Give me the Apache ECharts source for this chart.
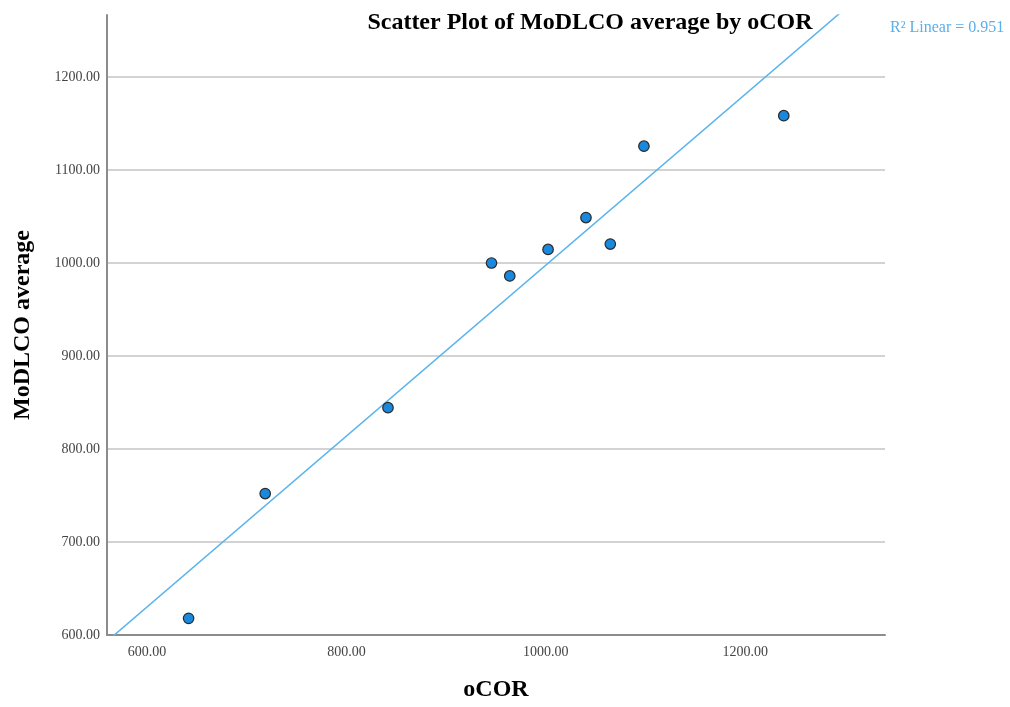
<!DOCTYPE html>
<html>
<head>
<meta charset="utf-8">
<script src="https://cdn.jsdelivr.net/npm/echarts@6/dist/echarts.min.js"></script>
<style>html,body{margin:0;padding:0;background:#fff;}#c{width:1010px;height:707px;}</style>
</head>
<body>
<div id="c"></div>
<script>
// Data
const oCOR = [641.8, 718.6, 841.7, 945.5, 963.8, 1002.2, 1040.2, 1064.6, 1098.3, 1238.5];
const modlcoAverage = [617.9, 752.1, 844.4, 1000.0, 986.1, 1014.6, 1048.9, 1020.4, 1125.6, 1158.4];
const xTickLabels = [600, 800, 1000, 1200];
const yTickLabels = [600, 700, 800, 900, 1000, 1100, 1200];
const titleText = 'Scatter Plot of MoDLCO average by oCOR';
const xName = 'oCOR';
const yName = 'MoDLCO average';

// Linear fit (least squares) from the data
const n = oCOR.length;
const mx = oCOR.reduce((a, b) => a + b, 0) / n;
const my = modlcoAverage.reduce((a, b) => a + b, 0) / n;
let sxy = 0, sxx = 0, syy = 0;
for (let i = 0; i < n; i++) {
  const dx = oCOR[i] - mx, dy = modlcoAverage[i] - my;
  sxy += dx * dy; sxx += dx * dx; syy += dy * dy;
}
const slope = sxy / sxx;
const intercept = my - slope * mx;
const r2 = (sxy * sxy) / (sxx * syy);

const X_MIN = 560, X_MAX = 1340, Y_MIN = 600, Y_MAX = 1266.7;
const fitLine = [[X_MIN, intercept + slope * X_MIN], [X_MAX, intercept + slope * X_MAX]];

const serif = 'Liberation Serif';
const chart = echarts.init(document.getElementById('c'));
chart.setOption({
  animation: false,
  backgroundColor: '#ffffff',
  title: {
    text: titleText,
    left: 585, top: 6, textAlign: 'center',
    textStyle: { fontFamily: serif, fontSize: 24, fontWeight: 'bold', color: '#000' }
  },
  graphic: [{
    type: 'text', left: 890, top: 20,
    style: { text: 'R\u00B2 Linear = ' + r2.toFixed(3), font: '16px "Liberation Serif"', fill: '#5aafe8' }
  }],
  grid: { left: 107, right: 125, top: 15, bottom: 70, containLabel: false },
  xAxis: {
    type: 'value', min: X_MIN, max: X_MAX, interval: 20,
    name: xName, nameLocation: 'middle', nameGap: 43,
    nameTextStyle: { fontFamily: serif, fontSize: 24, fontWeight: 'bold', color: '#000' },
    axisLine: { show: true, lineStyle: { color: '#8c8c8c', width: 2 } },
    axisTick: { show: false },
    splitLine: { show: false },
    axisLabel: {
      interval: 0, margin: 10, showMinLabel: true, showMaxLabel: true,
      fontFamily: serif, fontSize: 14, color: '#444',
      formatter: v => xTickLabels.indexOf(Math.round(v)) >= 0 ? v.toFixed(2) : ''
    }
  },
  yAxis: {
    type: 'value', min: Y_MIN, max: Y_MAX, interval: 100,
    name: yName, nameLocation: 'middle', nameGap: 72, nameRotate: 90,
    nameTextStyle: { fontFamily: serif, fontSize: 24, fontWeight: 'bold', color: '#000' },
    axisLine: { show: true, lineStyle: { color: '#8c8c8c', width: 2 } },
    axisTick: { show: false },
    splitLine: { show: true, showMinLine: false, showMaxLine: false, lineStyle: { color: '#c4c4c4', width: 1.5 } },
    axisLabel: {
      margin: 7, fontFamily: serif, fontSize: 14, color: '#444',
      formatter: v => yTickLabels.indexOf(Math.round(v)) >= 0 && Math.abs(v - Math.round(v)) < 1e-6 ? v.toFixed(2) : ''
    }
  },
  series: [
    {
      type: 'line', data: fitLine, clip: true, symbol: 'none', z: 2,
      lineStyle: { color: '#5ab4ec', width: 1.5 }
    },
    {
      type: 'scatter', z: 3,
      data: oCOR.map((x, i) => [x, modlcoAverage[i]]),
      symbol: 'circle', symbolSize: 10.5,
      itemStyle: { color: '#1a88dc', borderColor: '#2a2a2a', borderWidth: 1.2, opacity: 1 }
    }
  ]
});
</script>
</body>
</html>
